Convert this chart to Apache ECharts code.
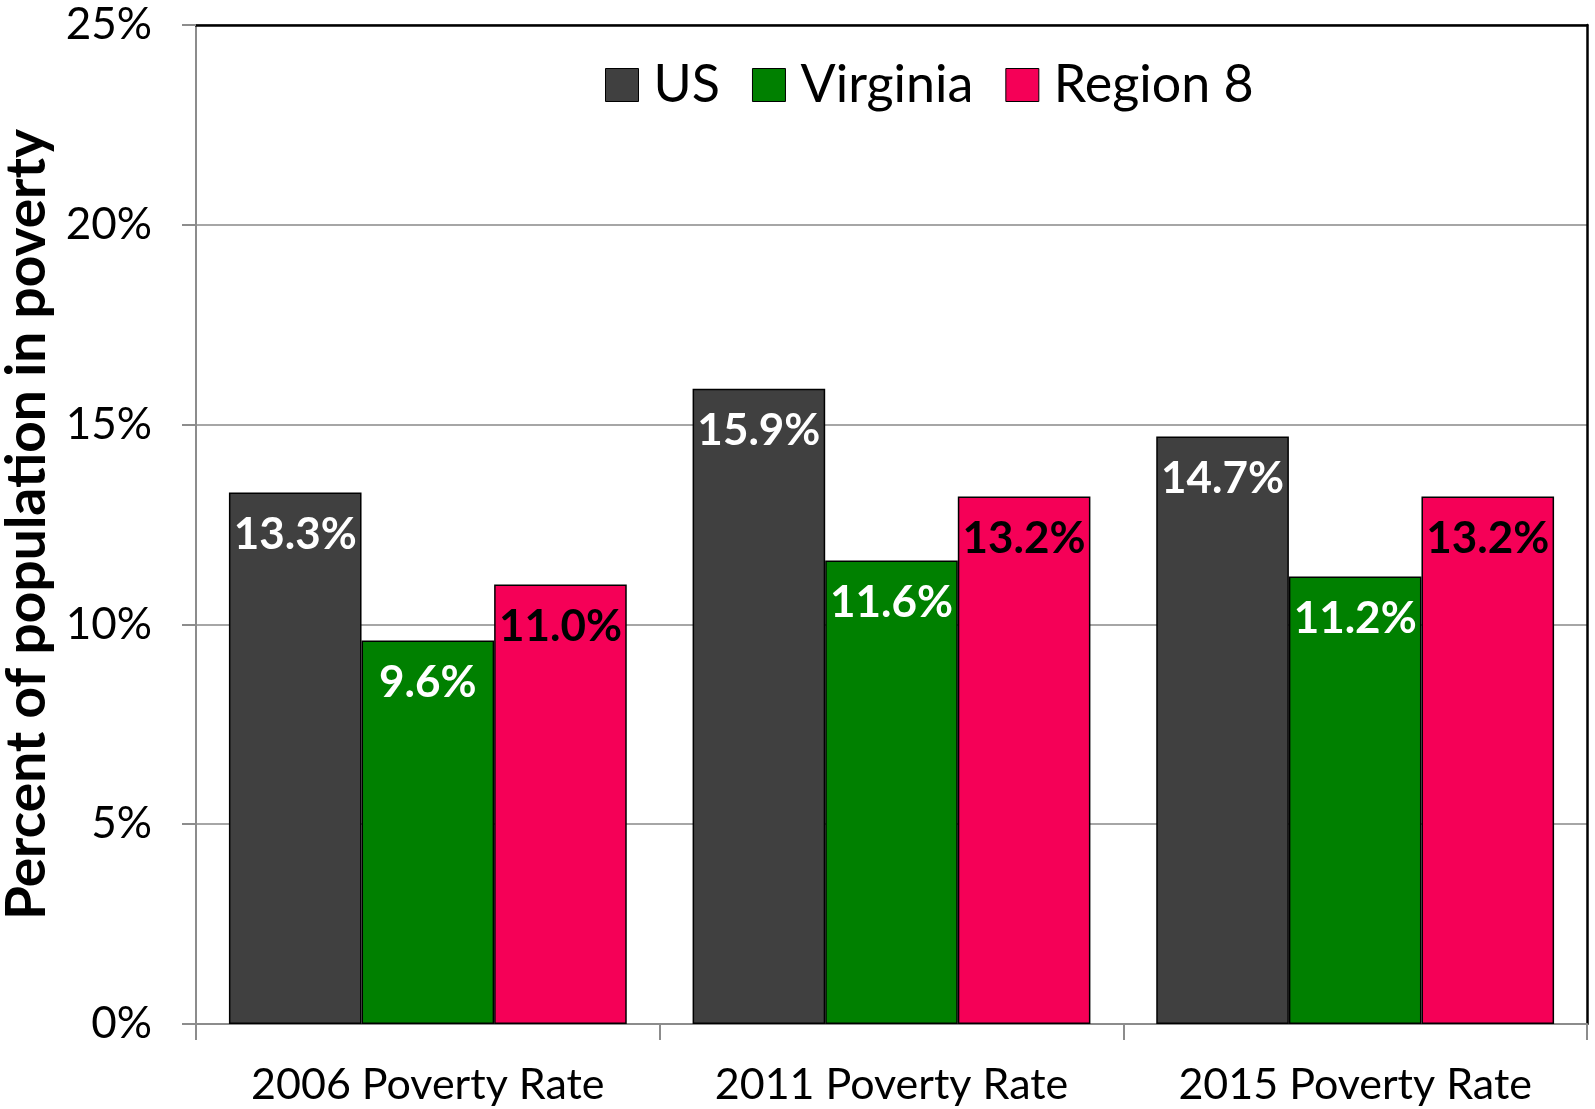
<!DOCTYPE html>
<html>
<head>
<meta charset="utf-8">
<script src="https://cdn.jsdelivr.net/npm/echarts@6/dist/echarts.min.js"></script>
<style>
  html, body { margin: 0; padding: 0; background: #fff; }
  #chart { width: 1595px; height: 1109px; }
</style>
</head>
<body>
<div id="chart"></div>
<script>
const categories = ['2006 Poverty Rate', '2011 Poverty Rate', '2015 Poverty Rate'];
const usValues = [13.3, 15.9, 14.7];
const virginiaValues = [9.6, 11.6, 11.2];
const region8Values = [11.0, 13.2, 13.2];
const yTicks = [0, 5, 10, 15, 20, 25];

const font = 'Lato';

function barSeries(name, data, color, labelColor) {
  return {
    name: name,
    type: 'bar',
    data: data,
    barGap: '0%',
    barCategoryGap: '14.2%',
    itemStyle: { color: color, borderColor: '#000', borderWidth: 1.5 },
    label: {
      show: true,
      position: 'insideTop',
      distance: 20,
      color: labelColor,
      fontFamily: font,
      fontWeight: 'bold',
      fontSize: 44,
      formatter: p => p.value.toFixed(1) + '%'
    }
  };
}

const chart = echarts.init(document.getElementById('chart'));
chart.setOption({
  animation: false,
  backgroundColor: '#fff',
  grid: {
    left: 196, right: 8, top: 25, bottom: 85,
    outerBoundsMode: 'none',
    containLabel: false
  },
  legend: {
    top: 54,
    left: 600,
    itemWidth: 33,
    itemHeight: 33,
    itemGap: 32,
    icon: 'rect',
    itemStyle: { borderColor: '#000', borderWidth: 1 },
    textStyle: { fontFamily: font, fontSize: 52, color: '#000', padding: [0, 0, 0, 10] },
    data: ['US', 'Virginia', 'Region 8']
  },
  xAxis: [{
    type: 'category',
    data: categories,
    axisLine: { lineStyle: { color: '#8c8c8c', width: 2 } },
    axisTick: { show: true, length: 16, lineStyle: { color: '#8c8c8c', width: 2 } },
    axisLabel: { fontFamily: font, fontSize: 43, color: '#000', margin: 40 }
  }, {
    // top border of the plot area
    type: 'category',
    data: categories,
    position: 'top',
    axisLine: { show: true, onZero: false, lineStyle: { color: '#000', width: 2.5 } },
    axisTick: { show: false },
    axisLabel: { show: false }
  }],
  yAxis: [{
    type: 'value',
    min: yTicks[0],
    max: yTicks[yTicks.length - 1],
    interval: 5,
    name: 'Percent of population in poverty',
    nameLocation: 'middle',
    nameGap: 126,
    nameTextStyle: { fontFamily: font, fontSize: 55, fontWeight: 'bold', color: '#000' },
    axisLine: { show: true, lineStyle: { color: '#8c8c8c', width: 2 } },
    axisTick: { show: true, length: 14, lineStyle: { color: '#8c8c8c', width: 2 } },
    splitLine: { lineStyle: { color: '#a6a6a6', width: 2 } },
    axisLabel: { fontFamily: font, fontSize: 44, color: '#000', margin: 44, formatter: '{value}%' }
  }, {
    // right border of the plot area
    type: 'value',
    min: yTicks[0],
    max: yTicks[yTicks.length - 1],
    interval: 5,
    position: 'right',
    axisLine: { show: true, onZero: false, lineStyle: { color: '#000', width: 2.5 } },
    axisTick: { show: false },
    axisLabel: { show: false },
    splitLine: { show: false }
  }],
  series: [
    barSeries('US', usValues, '#404040', '#fff'),
    barSeries('Virginia', virginiaValues, '#008000', '#fff'),
    barSeries('Region 8', region8Values, '#f50057', '#000')
  ]
});
</script>
</body>
</html>
